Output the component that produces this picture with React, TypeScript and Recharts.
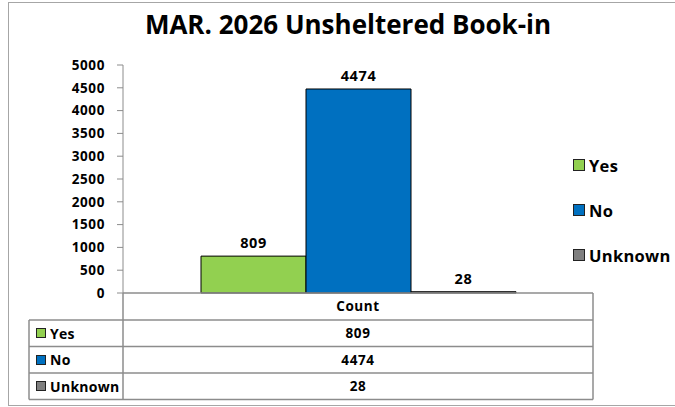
import { BarChart, Bar, XAxis, YAxis, LabelList } from 'recharts';

const CATEGORIES = ['Count'];
const SERIES = ['Yes', 'No', 'Unknown'];
const VALUES = [809, 4474, 28];
const COLORS = ['#92D050', '#0070C0', '#7F7F7F'];
const Y_TICKS = [0, 500, 1000, 1500, 2000, 2500, 3000, 3500, 4000, 4500, 5000];

const FONT = '"Open Sans", sans-serif';
const GRID = '#8c8c8c';

// one row per category, one key per series
const data = CATEGORIES.map((c) => {
  const row: Record<string, string | number> = { name: c };
  SERIES.forEach((s, i) => {
    row[s] = VALUES[i];
  });
  return row;
});

const tickStyle = { fill: '#000', fontSize: 13.5, fontWeight: 700, fontFamily: FONT, letterSpacing: 0.6 };

function Swatch({ color, size }: { color: string; size: number }) {
  return (
    <span
      style={{
        display: 'inline-block',
        width: size,
        height: size,
        background: color,
        border: '1px solid #222',
        boxSizing: 'border-box',
        marginRight: 4,
      }}
    />
  );
}

export default function App() {
  const rowTop = 320;
  const rowH = 26.5;

  return (
    <div style={{ position: 'absolute', left: 0, top: 0, width: 675, height: 407, background: '#fff', overflow: 'hidden', fontFamily: FONT }}>
      {/* outer frame */}
      <div style={{ position: 'absolute', left: 8, top: 2, width: 700, height: 404, border: '1px solid #a6a6a6', boxSizing: 'border-box' }} />

      {/* title */}
      <div style={{ position: 'absolute', left: 0, top: 7, width: 696, textAlign: 'center', fontSize: 26, fontWeight: 700, color: '#000', lineHeight: '34px' }}>
        MAR. 2026 Unsheltered Book-in
      </div>

      <div style={{ position: 'absolute', left: 0, top: 0 }}>
        <BarChart
          width={675}
          height={407}
          data={data}
          margin={{ top: 65, right: 82, left: 0, bottom: 87 }}
          barCategoryGap={78}
          barGap={0}
        >
          <XAxis
            dataKey="name"
            height={27}
            axisLine={{ stroke: GRID, strokeWidth: 1.5 }}
            tickLine={false}
            tickSize={0}
            tickMargin={8}
            tick={tickStyle}
          />
          <YAxis
            width={123}
            domain={[0, 5000]}
            ticks={Y_TICKS}
            interval={0}
            axisLine={{ stroke: GRID }}
            tickLine={{ stroke: GRID }}
            tickSize={6}
            tickMargin={12}
            tick={tickStyle}
          />
          {SERIES.map((s, i) => (
            <Bar key={s} dataKey={s} fill={COLORS[i]} stroke="#000" strokeWidth={1} isAnimationActive={false}>
              <LabelList dataKey={s} position="top" offset={8} style={{ ...tickStyle, fontSize: 14.5 }} />
            </Bar>
          ))}
        </BarChart>
      </div>

      {/* data table under the axis */}
      <svg width={675} height={407} style={{ position: 'absolute', left: 0, top: 0, pointerEvents: 'none' }}>
        <line x1={123} y1={293} x2={123} y2={rowTop + rowH * 3} stroke={GRID} strokeWidth={1.5} />
        <line x1={593} y1={293} x2={593} y2={rowTop + rowH * 3} stroke={GRID} strokeWidth={1.5} />
        <line x1={29} y1={rowTop} x2={29} y2={rowTop + rowH * 3} stroke={GRID} strokeWidth={1.5} />
        {[0, 1, 2, 3].map((k) => (
          <line key={k} x1={29} y1={rowTop + rowH * k} x2={593} y2={rowTop + rowH * k} stroke={GRID} strokeWidth={1.5} />
        ))}
      </svg>
      {SERIES.map((s, i) => (
        <div key={s}>
          <div
            style={{ position: 'absolute', left: 36, top: rowTop + rowH * i, height: rowH, display: 'flex', alignItems: 'center', fontSize: 14, fontWeight: 700, letterSpacing: 0.3 }}
          >
            <Swatch color={COLORS[i]} size={10} />
            {s}
          </div>
          <div
            style={{ position: 'absolute', left: 123, width: 470, top: rowTop + rowH * i, height: rowH, display: 'flex', alignItems: 'center', justifyContent: 'center', fontSize: 13.5, fontWeight: 700, letterSpacing: 0.6 }}
          >
            {VALUES[i]}
          </div>
        </div>
      ))}

      {/* legend on the right */}
      {SERIES.map((s, i) => (
        <div
          key={s}
          style={{ position: 'absolute', left: 573, top: 153 + i * 45, height: 24, display: 'flex', alignItems: 'center', fontSize: 16.5, fontWeight: 700, letterSpacing: 0.3 }}
        >
          <Swatch color={COLORS[i]} size={12} />
          {s}
        </div>
      ))}
    </div>
  );
}
